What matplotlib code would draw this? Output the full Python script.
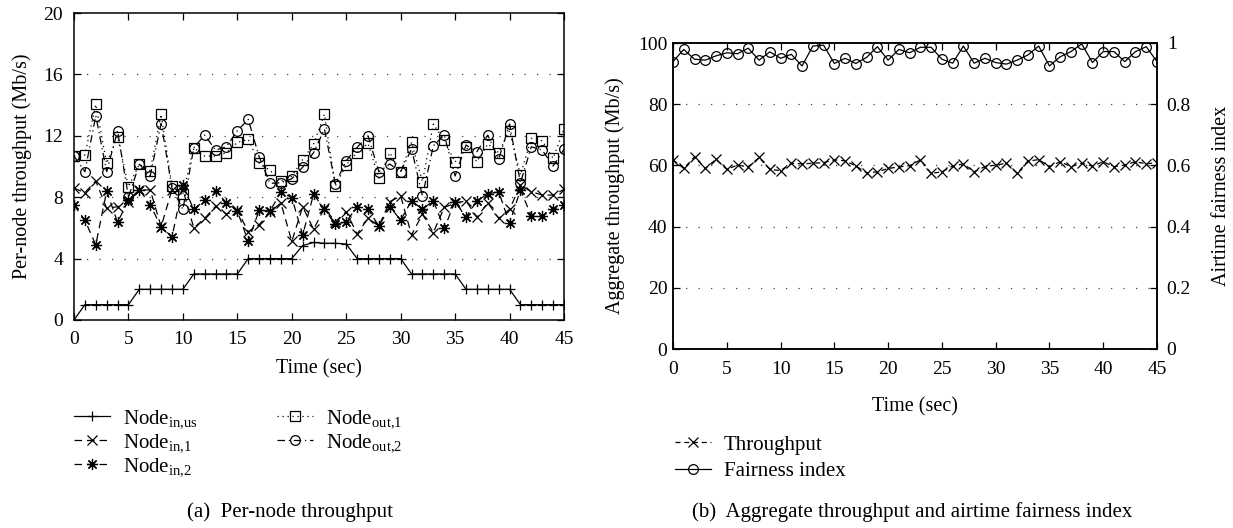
import matplotlib
matplotlib.use("Agg")
import matplotlib.pyplot as plt
import numpy as np

plt.rcParams['font.family'] = ['Liberation Serif', 'DejaVu Serif']
plt.rcParams['mathtext.fontset'] = 'custom'
plt.rcParams['mathtext.rm'] = 'Liberation Serif'
plt.rcParams['mathtext.it'] = 'Liberation Serif:italic'
plt.rcParams['font.size'] = 14

# ---------------- data ----------------
time_sec = list(range(46))

node_in_us = [0, 1, 1, 1, 1, 1, 2, 2, 2, 2, 2, 3, 3, 3, 3, 3, 4, 4, 4, 4, 4,
              4.85, 5.05, 5, 5, 4.95, 4, 4, 4, 4, 4, 3, 3, 3, 3, 3, 2, 2, 2, 2, 2,
              1, 1, 1, 1, 1]
node_in_1 = [8.58, 8.3, 9.06, 7.28, 7.38, 7.7, 8.47, 8.47, 6.08, 8.5, 8.5, 6.0,
             6.62, 7.4, 6.9, 7.15, 5.75, 6.2, 7.05, 7.62, 5.12, 7.38, 5.91, 7.28,
             6.4, 7.06, 5.6, 6.62, 6.12, 7.71, 8.08, 5.54, 6.9, 5.69, 7.34, 7.6,
             7.77, 6.69, 7.64, 6.62, 7.21, 8.79, 8.36, 8.14, 8.14, 8.51]
node_in_2 = [7.49, 6.5, 4.9, 8.4, 6.36, 7.8, 8.5, 7.49, 6.08, 5.41, 8.8, 7.2,
             7.8, 8.42, 7.64, 7.1, 5.12, 7.15, 7.1, 8.33, 7.98, 5.54, 8.19, 7.21,
             6.23, 6.4, 7.38, 7.21, 6.12, 7.38, 6.51, 7.77, 7.21, 7.77, 5.97, 7.71,
             6.69, 7.77, 8.21, 8.36, 6.3, 8.47, 6.78, 6.78, 7.21, 7.49]
node_out_1 = [10.7, 10.75, 14.05, 10.2, 11.95, 8.68, 10.15, 9.73, 13.4, 8.7, 8.2,
              11.22, 10.68, 10.68, 10.9, 11.57, 11.77, 10.22, 9.75, 9.03, 9.36,
              10.45, 11.44, 13.4, 8.73, 10.1, 10.9, 11.5, 9.23, 10.9, 9.66, 11.58,
              9.01, 12.76, 11.7, 10.29, 11.29, 10.31, 11.47, 10.9, 12.33, 9.45,
              11.84, 11.68, 10.53, 12.44]
node_out_2 = [10.68, 9.66, 13.3, 9.66, 12.33, 8.0, 10.15, 9.4, 12.8, 8.6, 7.2,
              11.22, 12.05, 11.07, 11.29, 12.33, 13.07, 10.64, 8.9, 8.94, 9.2,
              9.95, 10.9, 12.44, 8.86, 10.38, 11.25, 12.0, 9.66, 10.16, 9.66, 11.14,
              8.08, 11.35, 12.05, 9.38, 11.4, 10.97, 12.05, 10.47, 12.77, 8.94,
              11.29, 11.07, 10.03, 11.12]

aggregate_throughput = [61.8, 59.0, 62.8, 59.0, 62.0, 58.7, 60.1, 59.5, 62.6, 58.7,
                        58.3, 60.7, 60.5, 60.7, 60.9, 61.8, 61.5, 59.8, 57.6, 57.9,
                        59.0, 59.5, 59.9, 61.8, 57.4, 57.9, 59.8, 60.5, 57.9, 59.6,
                        60.1, 60.7, 57.4, 61.4, 61.9, 59.6, 61.2, 59.6, 60.7, 59.8,
                        61.2, 59.6, 60.1, 61.2, 60.5, 60.9]
fairness_index = [0.939, 0.979, 0.947, 0.944, 0.958, 0.968, 0.965, 0.983, 0.944,
                  0.971, 0.950, 0.963, 0.925, 0.990, 0.993, 0.933, 0.950, 0.933,
                  0.953, 0.988, 0.944, 0.979, 0.968, 0.986, 0.986, 0.947, 0.934,
                  0.990, 0.934, 0.950, 0.936, 0.931, 0.944, 0.961, 0.990, 0.925,
                  0.955, 0.972, 0.997, 0.936, 0.972, 0.972, 0.939, 0.972, 0.988,
                  0.939]

left_yticks = [0, 4, 8, 12, 16, 20]
right_yticks = [0, 20, 40, 60, 80, 100]
fair_ticks = [0, 0.2, 0.4, 0.6, 0.8, 1.0]
fair_ticklabels = ['0', '0.2', '0.4', '0.6', '0.8', '1']
xticks = [0, 5, 10, 15, 20, 25, 30, 35, 40, 45]

# ---------------- figure ----------------
W, H = 1233, 528
fig = plt.figure(figsize=(W / 100, H / 100), dpi=100)

def px_axes(x0, y0, x1, y1):
    return fig.add_axes([x0 / W, 1 - y1 / H, (x1 - x0) / W, (y1 - y0) / H])

axL = px_axes(74, 13, 564, 320)
axR = px_axes(673, 43, 1157, 349)

TICK_FS = 14
LABEL_FS = 14.5
LEG_FS = 15
CAP_FS = 15

grid_kw = dict(color='#444444', linestyle=(0, (1, 9)), linewidth=0.9)

def style_axis(ax):
    for s in ax.spines.values():
        s.set_linewidth(1.1)
    ax.tick_params(direction='in', length=5, width=0.9, top=True,
                   labelsize=TICK_FS)
    ax.set_xlim(0, 45)
    ax.set_xticks(xticks)

mk = dict(color='black', linewidth=0.9, markeredgewidth=0.9)

axL.plot(time_sec, node_in_us, linestyle='-', marker='+', markersize=7,
         label=r'Node$_{\mathrm{in{,}us}}$', **mk)
axL.plot(time_sec, node_in_1, linestyle=(0, (6, 4)), marker='x', markersize=6.5,
         label=r'Node$_{\mathrm{in{,}1}}$', **mk)
axL.plot(time_sec, node_in_2, linestyle=(0, (6, 4)), marker=(8, 2, 0), markersize=8,
         label=r'Node$_{\mathrm{in{,}2}}$', **mk)
axL.plot(time_sec, node_out_1, linestyle=(0, (1, 3)), marker='s', markersize=6.5,
         fillstyle='none', label=r'Node$_{\mathrm{out{,}1}}$', **mk)
axL.plot(time_sec, node_out_2, linestyle=(0, (6, 3, 1, 3)), marker='o', markersize=7,
         fillstyle='none', label=r'Node$_{\mathrm{out{,}2}}$', **mk)

style_axis(axL)
axL.tick_params(right=True)
axL.tick_params(axis='y', pad=8)
axL.tick_params(axis='x', pad=8)
axL.set_ylim(0, 20)
axL.set_yticks(left_yticks)
for v in left_yticks[1:-1]:
    axL.axhline(v, **grid_kw, zorder=0)
axL.set_xlabel('Time (sec)', fontsize=LABEL_FS)
axL.xaxis.label.set_va('center')
axL.xaxis.set_label_coords(0.5, -49 / 307)
axL.set_ylabel('Per-node throughput (Mb/s)', fontsize=LABEL_FS)
axL.yaxis.label.set_va('center')
axL.yaxis.set_label_coords((22 - 74) / 490, 0.5)

# right panel
axR.plot(time_sec, aggregate_throughput, linestyle=(0, (4, 3)), marker='x',
         markersize=6.5, label='Throughput', **mk)
axR2 = axR.twinx()
axR2.plot(time_sec, fairness_index, linestyle='-', marker='o', markersize=7,
          fillstyle='none', label='Fairness index', **mk)

style_axis(axR)
axR.tick_params(right=False)
axR.tick_params(axis='y', pad=4)
axR.tick_params(axis='x', pad=9)
axR.set_ylim(0, 100)
axR.set_yticks(right_yticks)
for v in right_yticks[1:-1]:
    axR.axhline(v, **grid_kw, zorder=0)
axR2.set_ylim(0, 1)
axR2.set_yticks(fair_ticks)
axR2.set_yticklabels(fair_ticklabels)
axR2.tick_params(direction='in', length=5, width=0.9, labelsize=TICK_FS, pad=7)
for s in axR2.spines.values():
    s.set_linewidth(1.1)
axR.set_xlabel('Time (sec)', fontsize=LABEL_FS)
axR.xaxis.label.set_va('center')
axR.xaxis.set_label_coords(0.5, -58 / 306)
axR.set_ylabel('Aggregate throughput (Mb/s)', fontsize=LABEL_FS)
axR.yaxis.label.set_va('center')
axR.yaxis.set_label_coords((615 - 673) / 484, 0.5)
axR2.set_ylabel('Airtime fairness index', fontsize=LABEL_FS)
axR2.yaxis.label.set_va('center')
axR2.yaxis.set_label_coords((1222 - 673) / 484, 0.5)

# legends
hL, lL = axL.get_legend_handles_labels()
fig.legend(hL, lL, loc='upper left', bbox_to_anchor=(74 / W, 1 - 408 / H),
           ncol=2, frameon=False, fontsize=LEG_FS, handlelength=1.75,
           handletextpad=0.6, columnspacing=3.8, labelspacing=0.1,
           borderaxespad=0, borderpad=0)
h1, l1 = axR.get_legend_handles_labels()
h2, l2 = axR2.get_legend_handles_labels()
fig.legend(h1 + h2, l1 + l2, loc='upper left', bbox_to_anchor=(675 / W, 1 - 435 / H),
           ncol=1, frameon=False, fontsize=LEG_FS, handlelength=1.75,
           handletextpad=0.6, labelspacing=0.32, borderaxespad=0, borderpad=0)

fig.text(187 / W, 1 - 512 / H, '(a)  Per-node throughput', ha='left', va='center',
         fontsize=CAP_FS)
fig.text(692 / W, 1 - 512 / H, '(b)  Aggregate throughput and airtime fairness index',
         ha='left', va='center', fontsize=CAP_FS)

fig.savefig('out.png', dpi=100)
